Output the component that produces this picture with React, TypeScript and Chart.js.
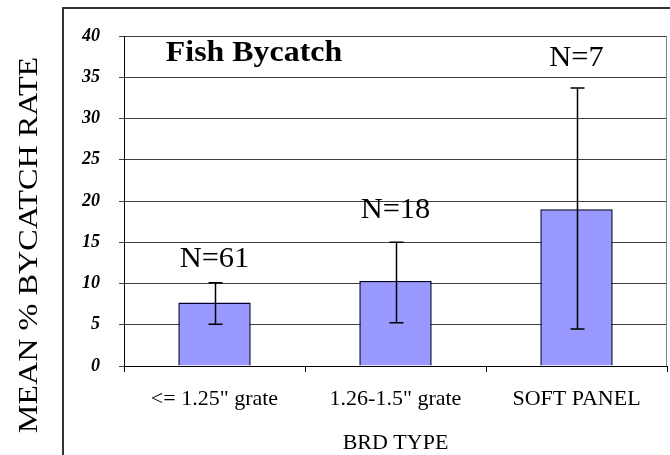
import React, { useEffect, useRef } from "react";
import { Chart, registerables } from "chart.js";

Chart.register(...registerables);

const categories = ['<= 1.25" grate', '1.26-1.5" grate', "SOFT PANEL"];
const meanRates = [7.7, 10.3, 19.0];
const errorLow = [5.05, 5.25, 4.5];
const errorHigh = [10.1, 15.0, 33.7];
const sampleLabels = ["N=61", "N=18", "N=7"];
const sampleLabelY = [12.9, 18.9, 37.3];
const yMin = 0;
const yMax = 40;
const yStep = 5;
const chartTitle = "Fish Bycatch";
const yTitle = "MEAN % BYCATCH RATE";
const xTitle = "BRD TYPE";

const SERIF = '"Liberation Serif", "Times New Roman", serif';

function stretchedText(ctx: any, text: string, x: number, y: number, sx: number, rot = 0) {
  ctx.save();
  ctx.translate(x, y);
  if (rot) ctx.rotate(rot);
  ctx.scale(sx, 1);
  ctx.fillText(text, 0, 0);
  ctx.restore();
}

const overlayPlugin = {
  id: "overlay",
  beforeDraw(chart: any) {
    const ctx = chart.ctx;
    ctx.save();
    ctx.fillStyle = "#ffffff";
    ctx.fillRect(0, 0, chart.width, chart.height);
    ctx.strokeStyle = "#333333";
    ctx.lineWidth = 2;
    ctx.strokeRect(63, 8, 700, 600);
    ctx.restore();
  },
  afterDraw(chart: any) {
    const ctx = chart.ctx;
    const area = chart.chartArea;
    const y = chart.scales.y;
    const meta = chart.getDatasetMeta(0);
    ctx.save();
    // right border of plot area
    ctx.strokeStyle = "#808080";
    ctx.lineWidth = 1;
    ctx.beginPath();
    ctx.moveTo(area.right - 0.5, area.top);
    ctx.lineTo(area.right - 0.5, area.bottom);
    ctx.stroke();

    // error bars
    ctx.strokeStyle = "#000000";
    ctx.lineWidth = 1.5;
    meta.data.forEach((bar: any, i: number) => {
      const x = Math.round(bar.x) + 0.5;
      const yl = y.getPixelForValue(errorLow[i]);
      const yh = y.getPixelForValue(errorHigh[i]);
      ctx.beginPath();
      ctx.moveTo(x, yl);
      ctx.lineTo(x, yh);
      ctx.moveTo(x - 7, yl);
      ctx.lineTo(x + 7, yl);
      ctx.moveTo(x - 7, yh);
      ctx.lineTo(x + 7, yh);
      ctx.stroke();
    });

    // N labels
    ctx.fillStyle = "#000000";
    ctx.font = `29px ${SERIF}`;
    ctx.textAlign = "center";
    ctx.textBaseline = "middle";
    meta.data.forEach((bar: any, i: number) => {
      stretchedText(ctx, sampleLabels[i], bar.x, y.getPixelForValue(sampleLabelY[i]), 1.05);
    });

    // chart title inside the plot
    ctx.font = `bold 29px ${SERIF}`;
    stretchedText(ctx, chartTitle, 254, y.getPixelForValue(37.9), 1.1);

    // y axis title
    ctx.font = `28px ${SERIF}`;
    stretchedText(ctx, yTitle, 30, 245, 1.15, -Math.PI / 2);
    ctx.restore();
  },
};

export default function App() {
  const ref = useRef<HTMLCanvasElement | null>(null);
  useEffect(() => {
    if (!ref.current) return;
    const chart = new Chart(ref.current, {
      type: "bar",
      data: {
        labels: categories,
        datasets: [
          {
            data: meanRates,
            backgroundColor: "#9999FF",
            borderColor: "#000033",
            borderWidth: 1.5,
            categoryPercentage: 1,
            barPercentage: 0.4,
          },
        ],
      },
      options: {
        responsive: false,
        animation: false,
        devicePixelRatio: 1,
        layout: { padding: { top: 36, right: 3, left: 0, bottom: 0 } },
        plugins: {
          legend: { display: false },
          tooltip: { enabled: false },
          title: { display: false },
        },
        scales: {
          x: {
            afterFit: (s: any) => {
              s.height = 89;
            },
            grid: {
              offset: true,
              drawOnChartArea: false,
              drawTicks: true,
              tickLength: 6,
              color: "#000000",
            },
            border: { display: true, color: "#000000", width: 1 },
            ticks: {
              padding: 14,
              color: "#000000",
              font: { family: SERIF, size: 22 },
              maxRotation: 0,
            },
            title: {
              display: true,
              text: xTitle,
              color: "#000000",
              font: { family: SERIF, size: 22, lineHeight: 1.0 },
              padding: { top: 0, bottom: 1 },
            },
          },
          y: {
            min: yMin,
            max: yMax,
            afterFit: (s: any) => {
              s.width = 124;
            },
            grid: {
              color: "#404040",
              drawTicks: true,
              tickLength: 5,
            },
            border: { display: true, color: "#000000", width: 1 },
            ticks: {
              stepSize: yStep,
              padding: 19,
              color: "#000000",
              font: { family: SERIF, size: 18, weight: "bold", style: "italic" },
            },
          },
        },
      },
      plugins: [overlayPlugin],
    });
    return () => chart.destroy();
  }, []);
  return (
    <div style={{ position: "absolute", left: 0, top: 0, width: 670, height: 455 }}>
      <canvas ref={ref} width={670} height={455} />
    </div>
  );
}
